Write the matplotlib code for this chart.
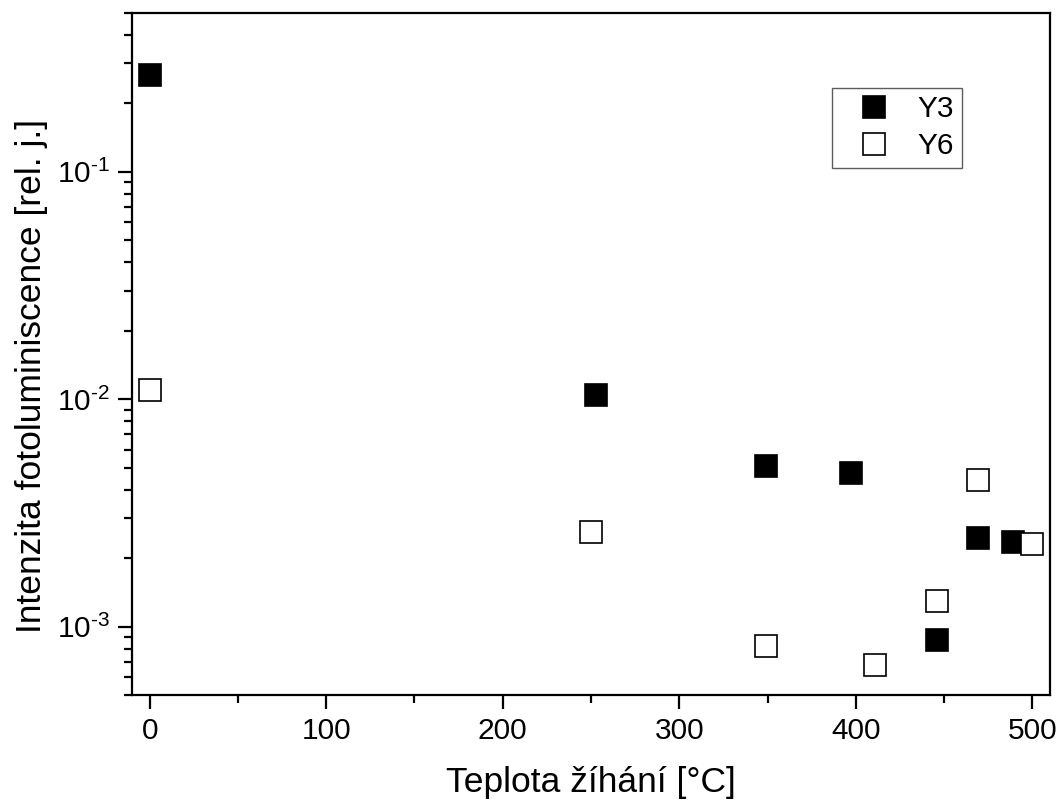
import numpy as np
import matplotlib
matplotlib.use("Agg")
from matplotlib import pyplot as plt
from matplotlib.ticker import LogLocator, MultipleLocator, FuncFormatter

plt.rcParams['font.family'] = ['Liberation Sans', 'DejaVu Sans']
plt.rcParams['mathtext.fontset'] = 'custom'
plt.rcParams['mathtext.rm'] = 'Liberation Sans'
plt.rcParams['mathtext.it'] = 'Liberation Sans'
plt.rcParams['mathtext.default'] = 'regular'

# data
t_y3 = [0, 253, 349, 397, 469, 489, 446]
i_y3 = [0.268, 0.0104, 0.00508, 0.00473, 0.00245, 0.00236, 0.00087]
t_y6 = [0, 250, 349, 411, 446, 469, 500]
i_y6 = [0.011, 0.00261, 0.00082, 0.00068, 0.0013, 0.00441, 0.00231]

fig = plt.figure(figsize=(10.59, 8.02), dpi=100)
ax = fig.add_axes([132/1059, 1 - 695/802, (1050-132)/1059, (695-13)/802])

ax.plot(t_y3, i_y3, 's', ms=16.5, mfc='black', mec='black', mew=1.2, ls='none', label='Y3')
ax.plot(t_y6, i_y6, 's', ms=16.5, mfc='white', mec='black', mew=1.2, ls='none', label='Y6')

ax.set_yscale('log')
ax.set_xlim(-10, 510)
ax.set_ylim(5e-4, 0.5)
ax.xaxis.set_major_locator(MultipleLocator(100))
ax.xaxis.set_minor_locator(MultipleLocator(50))
ax.yaxis.set_major_locator(LogLocator(base=10, numticks=10))
ax.yaxis.set_minor_locator(LogLocator(base=10, subs=np.arange(2, 10), numticks=10))


def log_fmt(v, pos):
    n = int(round(np.log10(v)))
    return r'$10^{\text{-}%d}$' % abs(n) if n < 0 else r'$10^{%d}$' % n


ax.yaxis.set_major_formatter(FuncFormatter(log_fmt))

for s in ax.spines.values():
    s.set_linewidth(1.6)
ax.tick_params(which='major', direction='out', length=10, width=1.6, labelsize=21.5, pad=6)
ax.tick_params(which='minor', direction='out', length=5.5, width=1.6)
ax.tick_params(which='both', top=False, right=False)

ax.set_xlabel('Teplota žíhání [°C]', fontsize=25.5, labelpad=15)
ax.set_ylabel('Intenzita fotoluminiscence [rel. j.]', fontsize=25.5, labelpad=6)
ax.yaxis.label.set_y(0.468)

leg = ax.legend(loc='upper left', bbox_to_anchor=((832-132)/918, 1 - (88-13)/682),
                fontsize=21.5, frameon=True, fancybox=False, borderaxespad=0,
                handletextpad=0.32, borderpad=0.25, labelspacing=0.3, handlelength=2.3)
leg.get_frame().set_edgecolor('#333333')
leg.get_frame().set_linewidth(1.0)

fig.savefig('out.png', dpi=100)
